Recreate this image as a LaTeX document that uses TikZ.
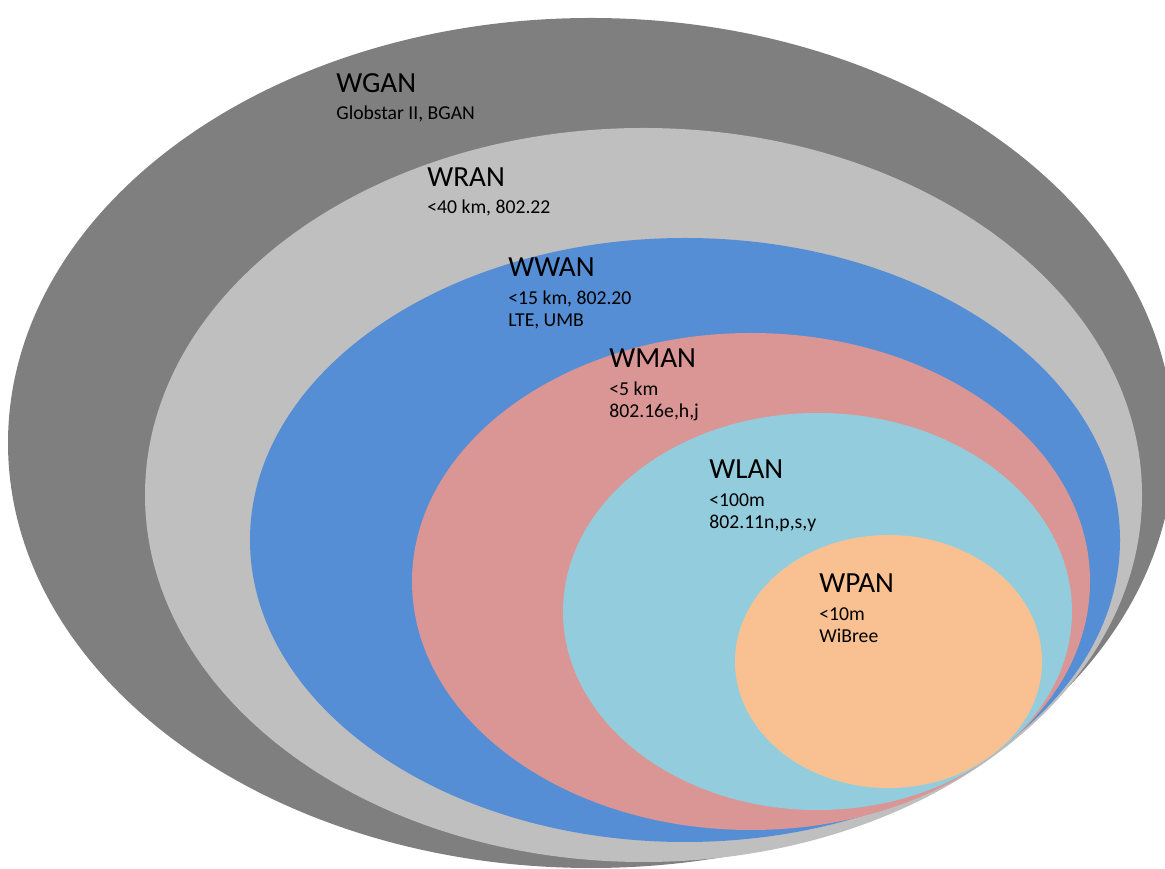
\documentclass[tikz,border=0pt]{standalone}
\usepackage{fontspec}
\setmainfont{Carlito}
\usepackage{tikz}
\usepackage{xcolor}

\definecolor{ganc}{HTML}{7F7F7F}
\definecolor{ranc}{HTML}{BFBFBF}
\definecolor{wanc}{HTML}{558ED5}
\definecolor{manc}{HTML}{D99694}
\definecolor{lanc}{HTML}{93CDDD}
\definecolor{panc}{HTML}{F9C191}

\begin{document}
\begin{tikzpicture}[x=0.02cm,y=0.02cm,
		title/.style={font=\fontsize{16.6}{18}\selectfont},
		info/.style={font=\fontsize{11.2}{13}\selectfont,align=left}]
			\useasboundingbox (0,0) rectangle (1165,868);
			\clip (0,0) rectangle (1165,868);
			% nested ranges
			\fill[ganc] (591,425) ellipse [x radius=583, y radius=425];
			\fill[ranc] (643.5,373) ellipse [x radius=498.5, y radius=367];
			\fill[wanc] (685,328) ellipse [x radius=435, y radius=302];
			\fill[manc] (751,286.5) ellipse [x radius=339, y radius=248.5];
			\fill[lanc] (817.5,256.5) ellipse [x radius=254.5, y radius=198.5];
			\fill[panc] (888.5,206.5) ellipse [x radius=153.5, y radius=126.5];
			% labels (two-line infos sit on their last baseline)
			\begin{scope}[every node/.style={inner sep=0pt,anchor=base west}]
				\node[title] (gan) at (336,775) {WGAN};
				\node[info] (ganinfo) at (336,748) {Globstar II, BGAN};
				\node[title] (ran) at (427,681) {WRAN};
				\node[info] (raninfo) at (427,654) {<40 km, 802.22};
				\node[title] (wan) at (508,591) {WWAN};
				\node[info] (waninfo) at (508,541) {<15 km, 802.20\\LTE, UMB};
				\node[title] (man) at (609,500) {WMAN};
				\node[info] (maninfo) at (609,450) {<5 km\\802.16e,h,j};
				\node[title] (lan) at (709,389) {WLAN};
				\node[info] (laninfo) at (709,339) {<100m\\802.11n,p,s,y};
				\node[title] (pan) at (819,275) {WPAN};
				\node[info] (paninfo) at (819,225) {<10m\\WiBree};
			\end{scope}
		\end{tikzpicture}
\end{document}
